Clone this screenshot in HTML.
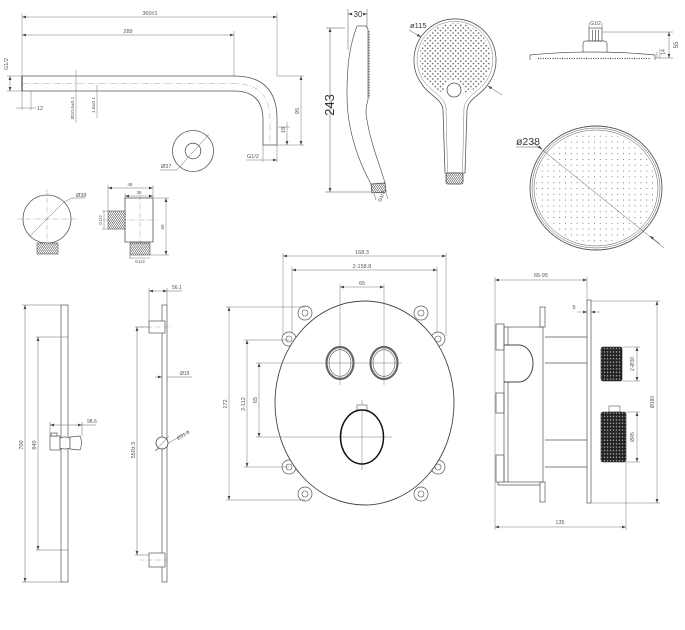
<!DOCTYPE html>
<html><head><meta charset="utf-8">
<style>
html,body{margin:0;padding:0;background:#fff;}
svg{display:block;}
text{font-family:"Liberation Sans",sans-serif;fill:#555;font-size:5.5px;}
</style></head><body>
<svg width="685" height="630" viewBox="0 0 685 630" xmlns="http://www.w3.org/2000/svg">
<defs>
<marker id="a" viewBox="0 0 10 10" refX="10" refY="5" markerWidth="4" markerHeight="4" markerUnits="userSpaceOnUse" orient="auto-start-reverse"><path d="M0,1.5 L10,5 L0,8.5Z" fill="#444"/></marker>
<pattern id="hs" width="3.6" height="3.6" patternUnits="userSpaceOnUse" patternTransform="rotate(45)"><circle cx="1.8" cy="1.8" r="0.8" fill="#555"/></pattern>
<pattern id="rs" width="5.8" height="5.8" patternUnits="userSpaceOnUse"><circle cx="2.9" cy="2.9" r="0.55" fill="#777"/></pattern>
<pattern id="kn" width="3" height="3.4" patternUnits="userSpaceOnUse"><rect width="3" height="3.4" fill="#222"/><ellipse cx="1.5" cy="1.7" rx="0.75" ry="0.9" fill="#999"/></pattern>
<pattern id="th" width="2" height="3" patternUnits="userSpaceOnUse"><rect width="2" height="3" fill="#fff"/><path d="M0,0 L2,3" stroke="#444" stroke-width="0.6"/></pattern>
<clipPath id="hclip"><circle cx="455" cy="59" r="36"/></clipPath>
<clipPath id="rclip"><ellipse cx="596" cy="188" rx="60" ry="56"/></clipPath>
</defs>

<!-- ================= SHOWER ARM ================= -->
<g fill="none" stroke="#555" stroke-width="0.8">
<path d="M22,76 L234,76 Q277,76 277,119 L277,145 L263,145 L263,120 Q263,91 234,91 L22,91 Z"/>
<line x1="22" y1="76" x2="22" y2="91" stroke-width="1.4"/>
</g>
<path d="M22,83.5 L234,83.5 Q270,83.5 270,120 L270,145" fill="none" stroke="#888" stroke-width="0.4" stroke-dasharray="6,2,1,2"/>
<g fill="none" stroke="#777" stroke-width="0.5">
<line x1="22" y1="13" x2="22" y2="110"/>
<line x1="277" y1="13" x2="277" y2="76"/>
<line x1="234" y1="31" x2="234" y2="76"/>
<line x1="22" y1="17" x2="277" y2="17" marker-start="url(#a)" marker-end="url(#a)"/>
<line x1="22" y1="35" x2="234" y2="35" marker-start="url(#a)" marker-end="url(#a)"/>
<line x1="7" y1="76" x2="22" y2="76"/>
<line x1="7" y1="91" x2="22" y2="91"/>
<line x1="10" y1="76" x2="10" y2="91" marker-start="url(#a)" marker-end="url(#a)"/>
<line x1="31" y1="91" x2="31" y2="110"/>
<line x1="16" y1="108" x2="36" y2="108"/>
<line x1="76" y1="70" x2="76" y2="123"/>
<line x1="97" y1="85" x2="97" y2="118"/>
<line x1="277" y1="76" x2="304" y2="76"/>
<line x1="277" y1="145" x2="304" y2="145"/>
<line x1="301" y1="76" x2="301" y2="145" marker-start="url(#a)" marker-end="url(#a)"/>
<line x1="278" y1="127" x2="290" y2="127"/>
<line x1="287" y1="122" x2="287" y2="145" marker-end="url(#a)"/>
<line x1="263" y1="145" x2="263" y2="162"/>
<line x1="277" y1="145" x2="277" y2="162"/>
<line x1="246" y1="160" x2="277" y2="160" marker-end="url(#a)"/>
</g>
<text x="150" y="15" text-anchor="middle">360±1</text>
<text x="128" y="33" text-anchor="middle">289</text>
<text transform="translate(8,64) rotate(-90)" text-anchor="middle">G1/2</text>
<text x="37" y="110">12</text>
<text transform="translate(74,108) rotate(-90)" text-anchor="middle" style="font-size:4.8px">Ø20.6±0.1</text>
<text transform="translate(95,105) rotate(-90)" text-anchor="middle" style="font-size:4.8px">1.6±0.1</text>
<text transform="translate(299,111) rotate(-90)" text-anchor="middle">95</text>
<text transform="translate(285,130) rotate(-90)" text-anchor="middle">18</text>
<text x="253" y="158" text-anchor="middle">G1/2</text>

<!-- flange -->
<g fill="none" stroke="#555" stroke-width="0.8">
<circle cx="193" cy="151" r="20.5"/>
<circle cx="193" cy="151" r="7.8"/>
</g>
<path d="M160,170 L177,170 L209,134" fill="none" stroke="#666" stroke-width="0.5"/>
<text x="161" y="168">Ø37</text>

<!-- ================= WALL OUTLET ================= -->
<g fill="none" stroke="#888" stroke-width="0.4" stroke-dasharray="5,1.5,1,1.5">
<line x1="17" y1="219" x2="77" y2="219"/>
<line x1="47" y1="189" x2="47" y2="250"/>
<line x1="103" y1="220" x2="158" y2="220"/>
<line x1="140" y1="195" x2="140" y2="258"/>
</g>
<circle cx="47" cy="219" r="24" fill="none" stroke="#555" stroke-width="0.8"/>
<path d="M30,236 L64,202 L72,198 L85,198" fill="none" stroke="#666" stroke-width="0.5"/>
<text x="76" y="197">Ø38</text>
<rect x="37" y="243" width="21" height="11" fill="url(#th)" stroke="#555" stroke-width="0.6"/>
<g fill="none" stroke="#555" stroke-width="0.8">
<rect x="125" y="198" width="28" height="44"/>
</g>
<rect x="108" y="211" width="17" height="18" fill="url(#th)" stroke="#555" stroke-width="0.6"/>
<rect x="130" y="243" width="20" height="12" fill="url(#th)" stroke="#555" stroke-width="0.6"/>
<g fill="none" stroke="#777" stroke-width="0.5">
<line x1="108" y1="185" x2="108" y2="211"/>
<line x1="153" y1="185" x2="153" y2="198"/>
<line x1="125" y1="193" x2="125" y2="198"/>
<line x1="108" y1="188" x2="153" y2="188" marker-start="url(#a)" marker-end="url(#a)"/>
<line x1="125" y1="196" x2="153" y2="196" marker-start="url(#a)" marker-end="url(#a)"/>
<line x1="153" y1="198" x2="169" y2="198"/>
<line x1="150" y1="255" x2="169" y2="255"/>
<line x1="166" y1="198" x2="166" y2="255" marker-start="url(#a)" marker-end="url(#a)"/>
<line x1="102" y1="211" x2="108" y2="211"/>
<line x1="102" y1="229" x2="108" y2="229"/>
<line x1="104" y1="211" x2="104" y2="229"/>
<line x1="130" y1="255" x2="130" y2="259"/>
<line x1="130" y1="258" x2="150" y2="258"/>
</g>
<text x="130" y="186" text-anchor="middle" style="font-size:4.5px">48</text>
<text x="139" y="194" text-anchor="middle" style="font-size:4.5px">36</text>
<text transform="translate(164,227) rotate(-90)" text-anchor="middle" style="font-size:4.5px">60</text>
<text transform="translate(102,220) rotate(-90)" text-anchor="middle" style="font-size:4.5px">G1/2</text>
<text x="140" y="263" text-anchor="middle" style="font-size:4.5px">G1/2</text>

<!-- ================= HAND SHOWER SIDE ================= -->
<g fill="none" stroke="#555" stroke-width="0.7">
<path d="M357,26 L366,26"/>
<path d="M357,26 C350,45 347,62 347,95 C347,130 358,160 371,184"/>
<path d="M366,26 L368,29 L368,100 C366,106 365,112 367,120 C371,145 380,165 385,183"/>
</g>
<line x1="369" y1="31" x2="369" y2="98" stroke="#444" stroke-width="1.2" stroke-dasharray="0.8,0.8"/>
<path d="M371,184 L385,183 L386,192 L372,193 Z" fill="url(#th)" stroke="#444" stroke-width="0.8"/>
<g fill="none" stroke="#555" stroke-width="0.5">
<line x1="348" y1="9" x2="348" y2="50"/>
<line x1="367" y1="9" x2="367" y2="27"/>
<line x1="348" y1="14" x2="367" y2="14" marker-start="url(#a)" marker-end="url(#a)"/>
<line x1="326" y1="28" x2="345" y2="28"/>
<line x1="325" y1="192" x2="372" y2="192"/>
<line x1="330" y1="28" x2="330" y2="192" marker-start="url(#a)" marker-end="url(#a)"/>
<line x1="374" y1="194" x2="376" y2="200"/>
<line x1="386" y1="193" x2="388" y2="199"/>
</g>
<rect x="353" y="10" width="10" height="8" fill="#fff"/>
<text x="358" y="17" text-anchor="middle" style="font-size:8px;fill:#333">30</text>
<text transform="translate(334,105) rotate(-90)" text-anchor="middle" style="font-size:13px;fill:#333">243</text>
<text transform="translate(383,197) rotate(-70)" text-anchor="middle" style="font-size:5px;fill:#333">G1/2</text>

<!-- ================= HAND SHOWER FRONT ================= -->
<path d="M421.8,84 A41,41 0 1 1 488.2,84 C482,95 468,98 467,110 L465,173 L445,173 L443,110 C442,98 428,95 421.8,84 Z" fill="none" stroke="#555" stroke-width="0.8"/>
<path d="M424.5,82 A38,38 0 1 1 485.5,82 C479,92 466,95 464,108 L462.5,172" fill="none" stroke="#777" stroke-width="0.5"/>
<path d="M424.5,82 C431,92 444,95 446,108 L447.5,172" fill="none" stroke="#777" stroke-width="0.5"/>
<rect x="420" y="20" width="70" height="75" fill="url(#hs)" clip-path="url(#hclip)"/>
<circle cx="454" cy="90" r="10" fill="#fff" stroke="none"/>
<circle cx="454" cy="90" r="7" fill="#fff" stroke="#555" stroke-width="0.8"/>
<rect x="446" y="173" width="17" height="11" rx="2" fill="url(#th)" stroke="#444" stroke-width="0.8"/>
<path d="M409,30 L421,37" stroke="#555" stroke-width="0.5" marker-end="url(#a)"/>
<text x="410" y="28" style="font-size:7.5px;fill:#333">ø115</text>
<path d="M502,95 L488,86" stroke="#555" stroke-width="0.5" marker-end="url(#a)"/>

<!-- ================= OVERHEAD SIDE ================= -->
<g fill="none" stroke="#555" stroke-width="0.7">
<rect x="589" y="28" width="13" height="13"/>
<line x1="592.5" y1="30" x2="592.5" y2="41"/>
<line x1="595.5" y1="30" x2="595.5" y2="41"/>
<line x1="598.5" y1="30" x2="598.5" y2="41"/>
<path d="M583,52 L583,44 Q583,41 586,41 L604,41 Q607,41 607,44 L607,52"/>
<path d="M530,60 L530,55 Q560,52 592,52 Q625,52 655,55 L655,60"/>
</g>
<line x1="538" y1="58.5" x2="651" y2="58.5" stroke="#444" stroke-width="1.3" stroke-dasharray="1,1.4"/>
<g fill="none" stroke="#666" stroke-width="0.5">
<line x1="602" y1="32" x2="673" y2="32"/>
<line x1="655" y1="58" x2="673" y2="58"/>
<line x1="669" y1="32" x2="669" y2="58" marker-start="url(#a)" marker-end="url(#a)"/>
<line x1="657" y1="52" x2="657" y2="58"/>
<line x1="660" y1="49" x2="660" y2="58"/>
<line x1="589" y1="28" x2="589" y2="23"/>
<line x1="602" y1="28" x2="602" y2="23"/>
</g>
<text x="595.5" y="25" text-anchor="middle" style="font-size:5px">G1/2</text>
<text transform="translate(665,52) rotate(-90)" text-anchor="middle" style="font-size:5px">14</text>
<text transform="translate(678,45) rotate(-90)" text-anchor="middle" style="font-size:6px">55</text>

<!-- ================= RAIN HEAD ================= -->
<rect x="530" y="125" width="132" height="126" fill="url(#rs)" clip-path="url(#rclip)"/>
<g fill="none" stroke="#555">
<ellipse cx="596" cy="188" rx="66" ry="62" stroke-width="0.9"/>
<ellipse cx="596" cy="188" rx="64" ry="60" stroke-width="0.5"/>
<ellipse cx="596" cy="188" rx="62" ry="58" stroke-width="0.5"/>
</g>
<line x1="540" y1="148" x2="664" y2="248" stroke="#555" stroke-width="0.5"/>
<line x1="516" y1="147" x2="540" y2="147" stroke="#555" stroke-width="0.5"/>
<path d="M532,142 L542,149" stroke="#444" stroke-width="0.5" marker-end="url(#a)"/>
<path d="M660,244 L650,236" stroke="#444" stroke-width="0.5" marker-end="url(#a)"/>
<text x="516" y="145" style="font-size:10.5px;fill:#333">ø238</text>

<!-- ================= SLIDE RAIL LEFT ================= -->
<rect x="61" y="305" width="7" height="277" fill="none" stroke="#555" stroke-width="0.7"/>
<g fill="none" stroke="#666" stroke-width="0.5">
<line x1="22" y1="305" x2="61" y2="305"/>
<line x1="22" y1="582" x2="61" y2="582"/>
<line x1="25" y1="305" x2="25" y2="582" marker-start="url(#a)" marker-end="url(#a)"/>
<line x1="36" y1="337" x2="68" y2="337"/>
<line x1="36" y1="550" x2="68" y2="550"/>
<line x1="38" y1="337" x2="38" y2="550" marker-start="url(#a)" marker-end="url(#a)"/>
<line x1="50" y1="422" x2="50" y2="436"/>
<line x1="82" y1="422" x2="82" y2="436"/>
<line x1="50" y1="425" x2="82" y2="425" marker-start="url(#a)" marker-end="url(#a)"/>
<line x1="82" y1="425" x2="96" y2="425"/>
</g>
<g fill="#fff" stroke="#555" stroke-width="0.7">
<rect x="50" y="436" width="10" height="14"/>
<path d="M60,438 Q65,436 70,438 L70,448 Q65,450 60,448 Z"/>
<path d="M70,437 L80,436 Q83,443 80,450 L70,449 Z"/>
<rect x="51" y="433" width="6" height="3"/>
</g>
<text transform="translate(23,445) rotate(-90)" text-anchor="middle">700</text>
<text transform="translate(36,445) rotate(-90)" text-anchor="middle">840</text>
<text x="87" y="423" style="font-size:5px">98.6</text>

<!-- ================= SLIDE RAIL RIGHT ================= -->
<rect x="162" y="305" width="5" height="277" fill="none" stroke="#555" stroke-width="0.7"/>
<g fill="#fff" stroke="#555" stroke-width="0.7">
<rect x="149" y="321" width="16" height="12"/>
<rect x="149" y="553" width="16" height="14"/>
</g>
<g fill="none" stroke="#888" stroke-width="0.4" stroke-dasharray="4,1.5,1,1.5">
<line x1="140" y1="327" x2="171" y2="327"/>
<line x1="140" y1="560" x2="171" y2="560"/>
</g>
<g fill="none" stroke="#666" stroke-width="0.5">
<line x1="149" y1="288" x2="149" y2="321"/>
<line x1="167" y1="288" x2="167" y2="305"/>
<line x1="149" y1="291" x2="167" y2="291" marker-start="url(#a)" marker-end="url(#a)"/>
<line x1="167" y1="291" x2="182" y2="291"/>
<line x1="135" y1="327" x2="149" y2="327"/>
<line x1="135" y1="555" x2="149" y2="555"/>
<line x1="137" y1="327" x2="137" y2="555" marker-start="url(#a)" marker-end="url(#a)"/>
<line x1="155" y1="377" x2="162" y2="377" marker-end="url(#a)"/>
<line x1="167" y1="377" x2="192" y2="377"/>
<line x1="155" y1="451" x2="189" y2="431"/>
</g>
<circle cx="162" cy="443" r="6" fill="#fff" stroke="#444" stroke-width="0.8"/>
<line x1="155" y1="451" x2="169" y2="436" stroke="#555" stroke-width="0.5"/>
<text x="172" y="289" style="font-size:5px">56.1</text>
<text x="180" y="375" style="font-size:5px">Ø19</text>
<text transform="translate(178,440) rotate(-30)" style="font-size:5px">Ø31.3</text>
<text transform="translate(135,450) rotate(-90)" text-anchor="middle">550±.5</text>

<!-- ================= VALVE FRONT ================= -->
<g fill="#fff" stroke="#555" stroke-width="0.7">
<circle cx="305" cy="313" r="7"/>
<circle cx="289" cy="339" r="7"/>
<circle cx="421" cy="313" r="7"/>
<circle cx="438" cy="339" r="7"/>
<circle cx="289" cy="467" r="7"/>
<circle cx="305" cy="494" r="7"/>
<circle cx="438" cy="467" r="7"/>
<circle cx="421" cy="494" r="7"/>
</g>
<ellipse cx="364.5" cy="403" rx="89.5" ry="102" fill="#fff" stroke="#444" stroke-width="0.9"/>
<g fill="none" stroke="#555" stroke-width="0.6">
<circle cx="305" cy="313" r="3"/>
<circle cx="289" cy="339" r="3"/>
<circle cx="421" cy="313" r="3"/>
<circle cx="438" cy="339" r="3"/>
<circle cx="289" cy="467" r="3"/>
<circle cx="305" cy="494" r="3"/>
<circle cx="438" cy="467" r="3"/>
<circle cx="421" cy="494" r="3"/>
</g>
<g fill="none" stroke="#777" stroke-width="0.5">
<line x1="283" y1="253" x2="283" y2="336"/>
<line x1="446" y1="253" x2="446" y2="336"/>
<line x1="283" y1="256" x2="446" y2="256" marker-start="url(#a)" marker-end="url(#a)"/>
<line x1="292" y1="267" x2="292" y2="333"/>
<line x1="437" y1="267" x2="437" y2="333"/>
<line x1="292" y1="270" x2="437" y2="270" marker-start="url(#a)" marker-end="url(#a)"/>
<line x1="340" y1="284" x2="340" y2="385"/>
<line x1="384" y1="284" x2="384" y2="385"/>
<line x1="340" y1="287" x2="384" y2="287" marker-start="url(#a)" marker-end="url(#a)"/>
<line x1="226" y1="307" x2="305" y2="307"/>
<line x1="226" y1="500" x2="305" y2="500"/>
<line x1="229" y1="307" x2="229" y2="500" marker-start="url(#a)" marker-end="url(#a)"/>
<line x1="244" y1="340" x2="289" y2="340"/>
<line x1="244" y1="467" x2="289" y2="467"/>
<line x1="247" y1="340" x2="247" y2="467" marker-start="url(#a)" marker-end="url(#a)"/>
<line x1="256" y1="363" x2="402" y2="363"/>
<line x1="256" y1="437" x2="392" y2="437"/>
<line x1="259" y1="363" x2="259" y2="437" marker-start="url(#a)" marker-end="url(#a)"/>
<line x1="362" y1="400" x2="362" y2="470"/>
</g>
<g fill="none">
<ellipse cx="340" cy="363" rx="13.5" ry="16" stroke="#666" stroke-width="2.2"/>
<ellipse cx="340" cy="363" rx="11" ry="13.3" stroke="#555" stroke-width="0.6"/>
<ellipse cx="384" cy="363" rx="13.5" ry="16" stroke="#666" stroke-width="2.2"/>
<ellipse cx="384" cy="363" rx="11" ry="13.3" stroke="#555" stroke-width="0.6"/>
<rect x="357" y="405" width="10" height="5" stroke="#555" stroke-width="0.6" fill="#fff"/>
<ellipse cx="362" cy="437" rx="21.5" ry="27" stroke="#111" stroke-width="1.5"/>
</g>
<text x="362" y="254" text-anchor="middle">168.3</text>
<text x="362" y="268" text-anchor="middle">2-158.8</text>
<text x="362" y="285" text-anchor="middle">65</text>
<text transform="translate(227,404) rotate(-90)" text-anchor="middle">172</text>
<text transform="translate(245,404) rotate(-90)" text-anchor="middle">2-112</text>
<text transform="translate(257,400) rotate(-90)" text-anchor="middle">65</text>

<!-- ================= VALVE SIDE ================= -->
<g fill="none" stroke="#555" stroke-width="0.7">
<rect x="587" y="300" width="4" height="203"/>
<rect x="504" y="327" width="39" height="155"/>
<rect x="540" y="307" width="5" height="20"/>
<rect x="540" y="482" width="5" height="20"/>
<line x1="545" y1="337" x2="587" y2="337"/>
<line x1="545" y1="363" x2="587" y2="363"/>
<line x1="545" y1="440" x2="587" y2="440"/>
<line x1="545" y1="467" x2="587" y2="467"/>
<rect x="496" y="324" width="8" height="26"/>
<rect x="496" y="393" width="8" height="20"/>
<rect x="496" y="455" width="8" height="27"/>
<line x1="498" y1="485" x2="540" y2="485"/>
<line x1="498" y1="482" x2="498" y2="485"/>
<line x1="508" y1="327" x2="508" y2="345"/>
<line x1="508" y1="382" x2="508" y2="482"/>
</g>
<path d="M504,345 L519,345 A14,18.5 0 0 1 519,382 L504,382" fill="none" stroke="#444" stroke-width="1"/>
<rect x="601" y="347" width="21" height="34" rx="2" fill="url(#kn)" stroke="#222" stroke-width="0.6"/>
<rect x="609" y="406" width="11" height="6" fill="#fff" stroke="#555" stroke-width="0.6"/>
<rect x="601" y="412" width="25" height="50" rx="2" fill="url(#kn)" stroke="#222" stroke-width="0.6"/>
<g fill="none" stroke="#777" stroke-width="0.5">
<line x1="495" y1="277" x2="495" y2="530"/>
<line x1="587" y1="277" x2="587" y2="300"/>
<line x1="495" y1="280" x2="587" y2="280" marker-start="url(#a)" marker-end="url(#a)"/>
<line x1="591" y1="301" x2="660" y2="301"/>
<line x1="591" y1="503" x2="660" y2="503"/>
<line x1="657" y1="301" x2="657" y2="503" marker-start="url(#a)" marker-end="url(#a)"/>
<line x1="622" y1="347" x2="640" y2="347"/>
<line x1="622" y1="381" x2="640" y2="381"/>
<line x1="637" y1="347" x2="637" y2="381" marker-start="url(#a)" marker-end="url(#a)"/>
<line x1="626" y1="412" x2="640" y2="412"/>
<line x1="626" y1="462" x2="640" y2="462"/>
<line x1="637" y1="412" x2="637" y2="462" marker-start="url(#a)" marker-end="url(#a)"/>
<line x1="626" y1="462" x2="626" y2="530"/>
<line x1="495" y1="527" x2="626" y2="527" marker-start="url(#a)" marker-end="url(#a)"/>
<line x1="577" y1="312" x2="587" y2="312" marker-end="url(#a)"/>
<line x1="600" y1="312" x2="591" y2="312" marker-end="url(#a)"/>
</g>
<text x="541" y="277" text-anchor="middle">65-95</text>
<text x="574" y="309" text-anchor="middle">5</text>
<text transform="translate(634,364) rotate(-90)" text-anchor="middle" style="font-size:5px">2-Ø30</text>
<text transform="translate(634,437) rotate(-90)" text-anchor="middle" style="font-size:5px">Ø45</text>
<text transform="translate(654,402) rotate(-90)" text-anchor="middle" style="font-size:5px">Ø180</text>
<text x="560" y="524" text-anchor="middle">135</text>
</svg>
</body></html>
